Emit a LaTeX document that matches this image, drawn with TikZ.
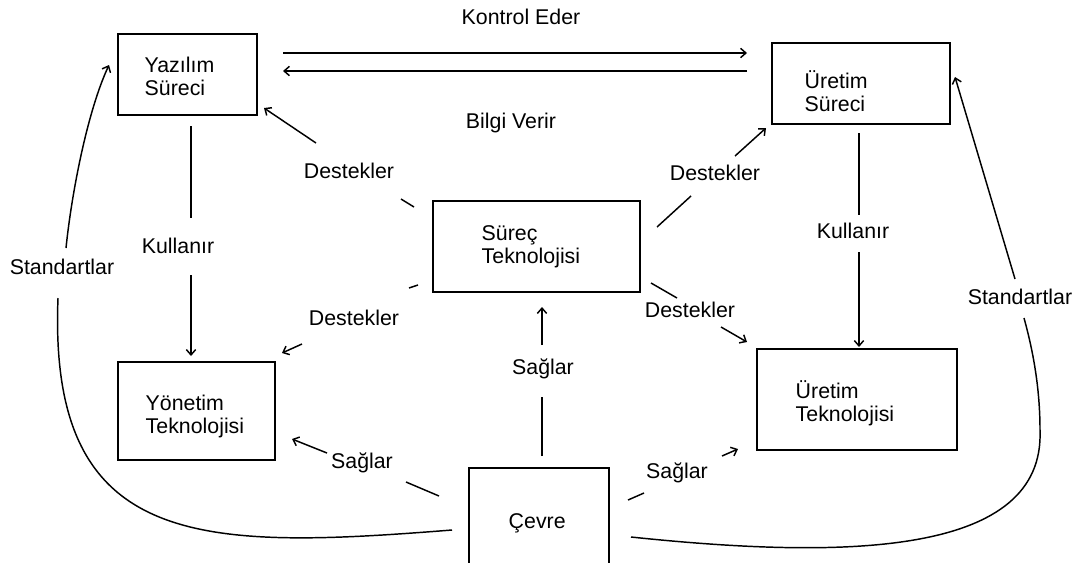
\documentclass[tikz,border=0pt]{standalone}
\usepackage{fontspec}
\setmainfont{Liberation Sans}
\usetikzlibrary{arrows.meta}
\newcommand\lblfont{\fontsize{16}{17.6}\selectfont}
\begin{document}
\begin{tikzpicture}[x=0.75pt,y=-0.75pt,line width=1.1pt,
  box/.style={draw,line width=1.3pt,inner sep=0pt,anchor=north west},
  boxtext/.style={font=\lblfont,align=left,anchor=west,inner sep=0pt},
  lbl/.style={font=\lblfont,inner sep=0pt},
  arr/.style={-{Straight Barb[length=4pt,width=7pt]}}]
\useasboundingbox[fill=white] (0,0) rectangle (1084,562);

% boxes
\node[box,minimum width=104.25pt,minimum height=60.75pt] (yaz) at (117,33) {};
\node[boxtext] (yazT) at (144,76.5) {Yazılım\\Süreci};
\node[box,minimum width=133.5pt,minimum height=60.75pt] (ures) at (771,42) {};
\node[boxtext] (uresT) at (804,91) {Üretim\\Süreci};
\node[box,minimum width=155.25pt,minimum height=68.25pt] (sur) at (432,200) {};
\node[boxtext] (surT) at (481,247) {Süreç\\Teknolojisi};
\node[box,minimum width=117.75pt,minimum height=73.5pt] (yon) at (117,361) {};
\node[boxtext] (yonT) at (145,416.5) {Yönetim\\Teknolojisi};
\node[box,minimum width=150pt,minimum height=75.75pt] (urtek) at (756,348) {};
\node[boxtext] (urtekT) at (795,403.5) {Üretim\\Teknolojisi};
\node[box,minimum width=105pt,minimum height=81pt] (cev) at (468,467) {};
\node[boxtext] (cevT) at (508,523) {Çevre};

% Kontrol Eder / Bilgi Verir
\coordinate (k1) at (283,53); \coordinate (k2) at (747,53);
\draw[arr] (k1) -- (k2);
\node[lbl] (kontrol) at (521,17) {Kontrol Eder};
\coordinate (b1) at (747,71); \coordinate (b2) at (283,71);
\draw[arr] (b1) -- (b2);
\node[lbl] (bilgi) at (511,123) {Bilgi Verir};

% Kullanır
\coordinate (kl1) at (191,126); \coordinate (kl2) at (191,218);
\coordinate (kl3) at (191,275); \coordinate (kl4) at (191,356);
\draw (kl1) -- (kl2); \draw[arr] (kl3) -- (kl4);
\node[lbl] (kulL) at (178,246) {Kullanır};
\coordinate (kr1) at (859,133); \coordinate (kr2) at (859,215);
\coordinate (kr3) at (859,252); \coordinate (kr4) at (859,347);
\draw (kr1) -- (kr2); \draw[arr] (kr3) -- (kr4);
\node[lbl] (kulR) at (853,231) {Kullanır};

% Destekler
\coordinate (d1a) at (414,207); \coordinate (d1b) at (401,199);
\coordinate (d1c) at (316,143); \coordinate (d1d) at (264,108);
\draw (d1a) -- (d1b); \draw[arr] (d1c) -- (d1d);
\node[lbl] (des1) at (349,171) {Destekler};
\coordinate (d2a) at (657,227); \coordinate (d2b) at (691,196);
\coordinate (d2c) at (735,156); \coordinate (d2d) at (766,128);
\draw (d2a) -- (d2b); \draw[arr] (d2c) -- (d2d);
\node[lbl] (des2) at (715,173) {Destekler};
\coordinate (d3a) at (418,285); \coordinate (d3b) at (409,288);
\coordinate (d3c) at (302,344); \coordinate (d3d) at (282,353);
\draw (d3a) -- (d3b); \draw[arr] (d3c) -- (d3d);
\node[lbl] (des3) at (354,318) {Destekler};
\coordinate (d4a) at (651,283); \coordinate (d4b) at (677,298);
\coordinate (d4c) at (721,327); \coordinate (d4d) at (747,342);
\draw (d4a) -- (d4b); \draw[arr] (d4c) -- (d4d);
\node[lbl] (des4) at (690,310) {Destekler};

% Sağlar
\coordinate (s1a) at (542,456); \coordinate (s1b) at (542,397);
\coordinate (s1c) at (542,345); \coordinate (s1d) at (542,307);
\draw (s1a) -- (s1b); \draw[arr] (s1c) -- (s1d);
\node[lbl] (sag1) at (543,369) {Sağlar};
\coordinate (s2a) at (439,496); \coordinate (s2b) at (406,482);
\coordinate (s2c) at (327,453); \coordinate (s2d) at (292,439);
\draw (s2a) -- (s2b); \draw[arr] (s2c) -- (s2d);
\node[lbl] (sag2) at (362,463) {Sağlar};
\coordinate (s3a) at (628,500); \coordinate (s3b) at (644,493);
\coordinate (s3c) at (722,456); \coordinate (s3d) at (738,449);
\draw (s3a) -- (s3b); \draw[arr] (s3c) -- (s3d);
\node[lbl] (sag3) at (677,473) {Sağlar};

% Standartlar
\coordinate (st1a) at (452,530); \coordinate (st1b) at (58,298);
\coordinate (st1c) at (66,248); \coordinate (st1d) at (109,65);
\draw (st1a) .. controls (200,550) and (48,550) .. (st1b);
\draw[arr] (st1c) .. controls (72,190) and (88,110) .. (st1d);
\node[lbl] (std1) at (62,267) {Standartlar};
\coordinate (st2a) at (631,537); \coordinate (st2m) at (1040,430);
\coordinate (st2b) at (1024,318);
\coordinate (st2c) at (1015,279); \coordinate (st2d) at (955,77);
\draw (st2a) .. controls (850,560) and (1045,555) .. (st2m)
  .. controls (1040,380) and (1030,340) .. (st2b);
\draw[arr] (st2c) -- (st2d);
\node[lbl] (std2) at (1020,297) {Standartlar};
\end{tikzpicture}
\end{document}
